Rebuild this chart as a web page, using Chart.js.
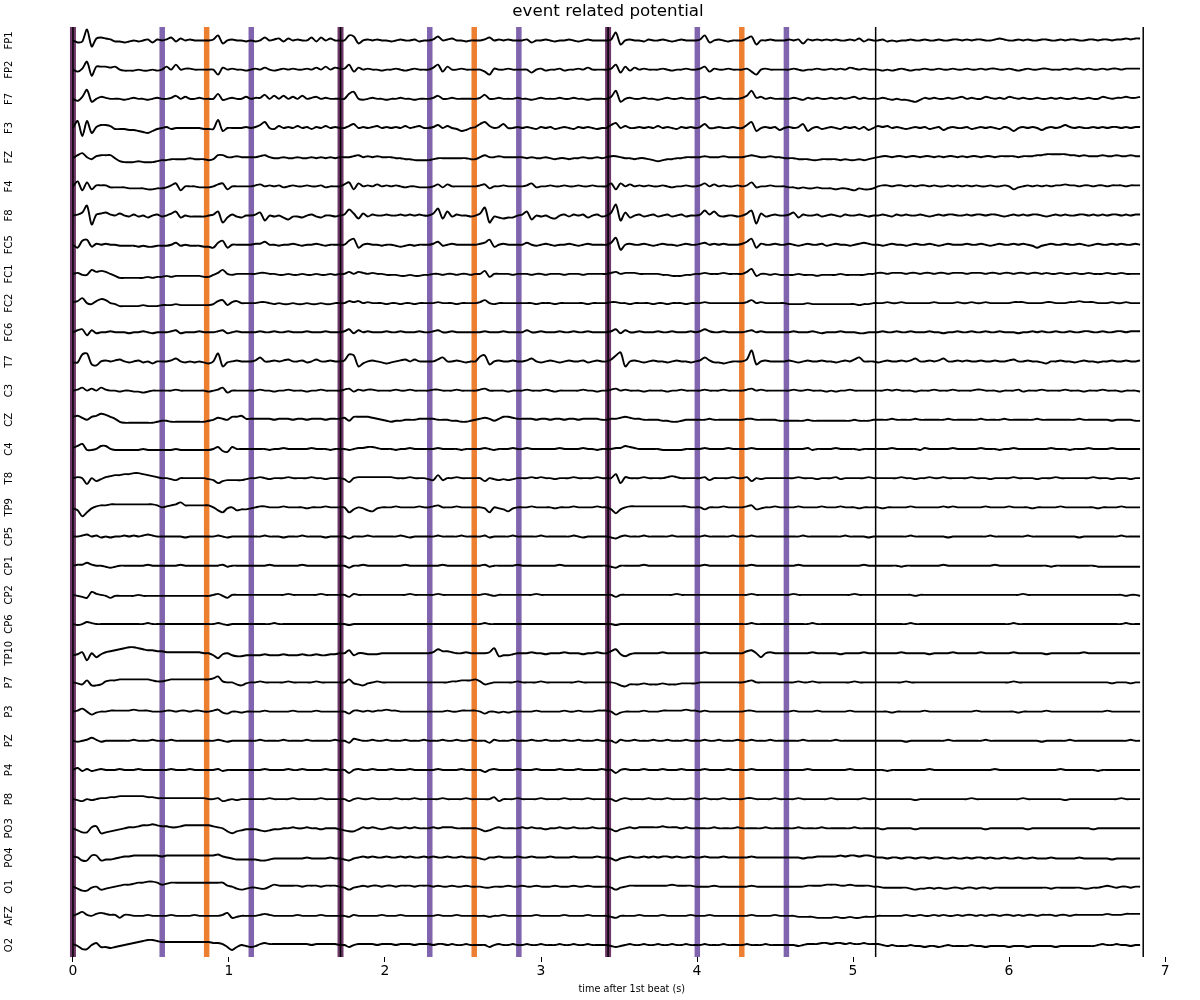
<!DOCTYPE html>
<html>
<head>
<meta charset="utf-8">
<script src="https://cdn.jsdelivr.net/npm/chart.js@4.4.1/dist/chart.umd.min.js"></script>
<style>
html,body{margin:0;padding:0;background:#ffffff;}
#wrap{width:1200px;height:1000px;}
</style>
</head>
<body>
<div id="wrap"><canvas id="c" width="1200" height="1000"></canvas></div>
<script>
// ---------------- data ----------------
const CHANNELS = ['FP1','FP2','F7','F3','FZ','F4','F8','FC5','FC1','FC2','FC6','T7','C3','CZ','C4','T8','TP9','CP5','CP1','CP2','CP6','TP10','P7','P3','PZ','P4','P8','PO3','PO4','O1','AFZ','O2'];
const SAMPLE_STEP = 0.03;               // seconds between samples
const BEATS = [0, 1.715, 3.43, 5.145, 6.86];
const MEASURE_EVENTS = [0, 1.715, 3.43];
const TRIPLET_EVENTS = [0.572, 1.143, 2.287, 2.858, 4.002, 4.573];
const HALF_EVENTS = [0.857, 2.572, 4.287];
const X_TICKS = [0, 1, 2, 3, 4, 5, 6, 7];

// signal values (deflection in units of 1/29.2 of the channel spacing, up = positive)
const FP1 = [
0,-2,-1,11,-6,2,3,2,1,-1, -1,-2,-1,0,-1,0,1,-2,1,0, 1,3,-1,2,0,1,0,0,0,0, 1,5,-3,0,1,0,0,-1,
0,-1,0,3,0,1,2,-1,2,0, 1,0,0,3,-1,3,0,2,0,0, 0,5,4,-3,0,1,0,1,0,0, -1,0,1,0,0,1,-1,0,
0,1,4,0,1,2,0,0,-1,0, 0,0,1,3,0,1,0,1,0,0, 0,1,-2,0,0,1,0,-1,0,0, 1,0,-1,0,1,0,0,0,
0,1,8,-4,0,1,0,0,-1,1, 0,0,1,0,-1,0,1,0,0,0, 1,5,-2,0,1,0,-1,0,0,0, 2,4,-4,0,0,1,0,0,
0,1,0,1,-3,1,0,1,0,1, 0,1,0,0,1,0,2,-1,1,0, 0,1,-1,0,-1,0,0,1,0,0, 1,0,0,1,0,0,1,1,
0,1,0,1,1,0,0,1,2,1, 0,0,1,0,1,0,0,1,1,0, 0,1,0,1,1,0,0,1,1,0, 1,1,0,1,1,2,1,2,2];
const FP2 = [
0,-2,1,8,-6,3,3,3,2,3, 0,-1,-1,-1,0,-1,-1,0,-1,0, 3,0,5,0,1,1,0,0,0,0, 0,-5,2,0,1,0,0,-1,
0,1,0,2,0,-1,0,1,0,1, 0,0,1,0,2,0,3,0,2,1, 1,5,-2,2,0,1,0,0,-1,0, 0,1,0,-1,0,1,0,0,
0,2,5,-2,3,0,0,1,0,0, 0,0,-2,-5,1,0,0,1,0,0, 0,0,-3,0,1,-1,0,0,1,-1, 0,0,1,0,2,0,0,0,
0,1,5,-3,3,-1,2,0,1,0, 0,0,1,0,-1,0,0,1,0,0, 1,3,-2,1,0,0,1,0,0,0, 1,-2,-5,0,1,0,0,0,
0,0,1,0,-1,0,0,1,0,0, 1,0,1,0,2,1,0,1,0,0, 0,-1,0,-1,0,1,0,-1,0,0, 1,0,0,1,0,0,1,0,
0,1,0,0,1,0,1,1,0,0, 1,0,-1,0,1,0,0,1,1,0, 0,0,1,0,1,1,0,1,0,0, 1,0,1,1,0,1,1,1,1];
const F7 = [
0,-2,2,9,-3,0,2,1,0,0, 0,-1,0,1,0,0,-1,0,1,0, 0,1,3,0,2,0,0,1,0,0, 0,5,-1,0,1,0,0,2,
0,1,1,4,0,3,0,3,0,2, 0,3,0,1,2,0,1,0,0,0, 0,5,7,0,-1,0,1,0,0,-1, 0,0,1,0,0,-1,0,0,
0,1,3,0,0,1,0,0,0,0, 0,1,4,0,0,1,0,0,0,1, 0,0,-1,0,1,0,0,0,1,0, 0,1,0,0,-1,0,0,0,
0,2,8,-3,0,1,0,0,1,0, 0,-1,0,1,0,0,1,0,0,0, 1,2,0,0,1,0,0,0,0,1, 3,8,1,2,0,1,0,0,
0,0,1,0,-1,1,0,1,0,0, 1,0,1,0,1,2,0,1,0,0, 0,1,0,-1,0,-1,-1,-2,-3,-1, 1,0,1,0,0,1,0,1,
2,0,1,0,0,2,1,0,1,0, 2,1,0,1,0,0,1,0,0,1, 0,1,0,0,1,0,0,1,0,0, 2,1,0,1,1,2,1,1,2];
const F3 = [
0,7,-8,7,-5,1,3,3,2,-1, -1,-1,-2,-2,-3,-4,-5,-3,-1,0, 1,-1,0,0,0,0,0,0,-1,-1, -1,8,-3,0,0,0,0,1,
0,1,3,6,0,-1,2,0,1,0, 2,0,1,-1,1,0,2,0,1,0, 0,2,4,0,1,0,1,2,0,1, 0,1,0,2,0,1,2,0,
0,1,3,0,2,0,-1,-3,-2,0, 1,4,6,2,0,1,4,0,0,1, 0,1,0,-1,1,0,1,-1,0,1, 0,-1,1,0,1,0,-1,0,
0,3,5,0,2,0,0,1,0,1, 0,2,0,1,0,-1,1,0,1,0, 1,4,0,0,1,0,0,1,0,0, 3,6,-3,0,1,0,1,-2,
0,1,0,1,4,-3,0,1,-1,0, 1,0,-1,1,0,1,-1,1,-2,0, 2,1,2,0,1,0,-1,0,1,0, 1,-1,0,1,-2,0,1,0,
0,1,-1,0,1,0,1,0,-1,1, 0,-3,0,1,0,1,0,-2,0,1, 0,1,3,1,0,1,0,0,1,0, 1,0,1,1,0,1,0,1,1];
const FZ = [
-1,2,4,0,-2,1,2,2,2,-1, -4,-5,-5,-5,-4,-5,-5,-5,-4,-3, -3,-2,-2,-2,-2,-1,-2,-2,-2,-3, -2,2,2,0,0,1,0,0,
0,0,1,2,0,-1,-1,0,-1,-1, 0,-1,-1,0,-1,0,-1,0,-1,0, 0,0,1,2,0,1,0,1,0,0, 0,-1,-1,-2,-2,-3,-3,-3,
-3,-2,-1,-1,-1,-1,-1,-1,-1,-2, -2,0,2,0,0,1,0,0,0,0, 0,-1,0,-1,-1,0,-1,-2,-1,-1, -2,-1,-1,0,-1,-1,0,-1,
0,1,1,0,-1,-1,-2,-1,-1,-2, -3,-4,-3,-2,-2,-1,-1,0,0,0, 0,1,0,0,0,1,0,0,0,0, 1,2,1,0,0,1,0,0,
-1,-1,-1,-2,-2,-2,-3,-3,-2,-2, -2,-2,-3,-2,-3,-3,-2,-3,-2,-1, 0,1,1,0,1,1,0,1,1,0, 1,1,0,1,0,1,1,0,
1,0,1,1,0,1,1,0,1,1, 1,1,0,1,1,1,2,2,3,3, 3,3,3,2,2,1,2,1,1,1, 2,1,1,2,1,1,2,1,1];
const F4 = [
0,5,-4,4,-3,1,1,1,-1,-1, -1,-1,-2,-2,-2,-2,-3,-3,-2,-2, -1,1,3,-4,0,0,0,-1,-1,-1, 0,2,3,-3,0,0,0,0,
0,1,2,0,1,0,1,-1,0,1, 0,0,1,0,0,1,-1,0,0,0, 2,4,-3,3,0,1,0,2,0,1, 0,1,0,-1,0,0,-1,-1,
-1,0,2,-1,2,0,0,0,0,0, 0,1,2,-2,0,0,1,0,0,0, 0,1,3,-1,0,0,1,0,0,1, 0,0,1,0,0,1,0,0,
0,3,-3,3,0,2,0,1,0,1, 0,0,1,0,-1,0,0,1,0,0, 1,3,0,2,0,1,0,0,1,0, 1,4,-1,0,0,1,0,0,
0,-1,-1,-2,-1,-2,-2,-1,-2,-2, -2,-3,-2,-2,-3,-4,-2,-3,-3,-2, 0,1,1,0,1,1,0,1,0,1, 1,0,1,0,0,1,0,1,
0,1,0,1,0,0,1,0,0,1, 0,-3,-1,0,1,0,1,0,1,0, 1,1,2,1,1,0,1,1,0,1, 1,0,1,1,1,0,1,1,1];
const F8 = [
0,1,3,10,-9,1,2,3,1,0, 2,0,-1,1,-1,0,-2,0,1,-1, 0,2,4,-2,0,-1,-1,-1,-1,0, 1,4,-7,-2,1,-1,-2,0,
0,1,3,-5,0,-1,0,-2,-4,-1, -1,-2,0,1,-1,-2,0,0,-1,0, 1,6,2,-3,2,-1,1,0,0,1, 0,0,1,0,1,0,1,0,
0,2,7,-3,4,-1,1,0,0,-1, 0,2,8,-7,-1,-2,-3,-2,-2,0, 1,4,-4,0,-1,0,-2,-3,0,1, -1,1,0,1,-2,0,1,-1,
0,3,11,-5,3,-2,0,1,-1,0, 1,-1,0,1,-1,0,1,-1,0,0, 1,5,1,4,0,-1,0,0,-1,0, 2,5,-8,2,-1,0,1,0,
0,1,3,-2,1,0,0,1,-1,0, 1,0,-1,1,0,0,1,0,-1,0, 0,1,0,-1,1,0,1,0,0,1, 0,-1,0,1,0,1,1,0,
0,1,0,1,1,0,1,1,0,-1, 0,1,0,1,0,1,1,0,-1,0, 1,0,1,0,0,1,1,0,1,0, 1,0,1,1,0,1,0,1,1];
const FC5 = [
0,-3,4,5,-2,1,0,1,0,0, -1,-1,-1,-1,-2,-1,-2,-2,-1,-1, -1,0,2,-1,0,-1,-1,-1,-2,-2, -3,2,4,-3,0,0,0,0,
0,1,1,3,0,0,-1,0,0,1, 0,-1,0,0,1,0,-1,0,0,0, 0,4,6,-3,0,1,0,0,-1,0, 0,-1,-2,-1,0,-1,0,0,
0,1,3,-1,0,1,0,0,0,0, 0,1,2,5,-2,0,1,0,0,0, 0,2,0,-1,0,1,0,-1,0,0, 1,0,-1,0,1,0,0,0,
0,2,7,-5,0,1,0,0,1,0, -1,0,1,0,0,-1,0,1,0,0, 1,2,0,1,0,1,0,0,0,1, 3,6,-3,1,0,0,1,0,
0,1,0,-1,0,1,0,0,1,-1, 0,1,0,0,-1,0,1,2,1,0, 0,-1,0,1,0,0,-1,0,1,0, 0,1,0,-1,0,1,0,0,
0,1,0,0,1,0,-1,0,1,0, 0,1,0,1,0,-1,-3,-1,0,1, 0,0,1,0,0,1,0,-1,0,1, 0,0,1,0,1,0,0,1,0];
const FC1 = [
0,1,-1,-1,4,2,3,2,0,-2, -4,-4,-4,-4,-4,-4,-3,-4,-3,-3, -2,-3,-2,-2,-2,-2,-2,-2,-3,-3, -1,1,4,0,-1,0,0,0,
0,0,1,1,0,0,-1,-1,0,-1, -1,0,-1,-1,0,-1,-1,0,-1,0, 0,2,0,2,1,0,1,0,0,-1, -1,-1,-2,-2,-1,-2,-2,-1,
-1,0,0,-1,0,0,-1,0,0,-1, 0,0,3,-3,0,0,0,0,-1,0, 0,0,-1,0,0,-1,0,0,0,-1, 0,0,0,-1,0,0,0,0,
0,1,2,0,1,1,1,0,0,0, 0,0,-1,-1,-2,-2,-2,-1,-1,0, 0,1,0,0,0,1,0,0,0,0, 2,5,-2,0,0,-1,0,-1,
-1,-1,-1,0,-1,-1,-1,-2,-1,-1, -1,-1,0,-1,-1,-1,-1,-1,0,0, 1,1,0,1,1,1,0,1,1,0, 1,1,0,1,1,0,1,1,
1,0,1,1,1,0,1,1,0,1, 1,0,1,1,0,1,1,0,1,0, 0,1,0,0,1,0,0,1,0,0, 0,1,0,0,1,0,0,0,0];
const FC2 = [
1,2,5,0,-1,2,4,3,0,-1, -3,-3,-3,-3,-3,-2,-3,-3,-3,-2, -2,-2,-1,-2,-2,-2,-2,-2,-2,-2, -1,2,3,-2,1,2,0,0,
0,0,1,1,0,-1,0,-1,-1,0, -1,-1,0,-1,-1,0,-1,-1,0,0, 0,2,1,2,0,1,0,0,0,-1, 0,0,-1,0,0,-1,0,0,
0,0,1,0,0,0,-1,0,0,0, 0,1,3,0,-1,0,0,0,0,0, 0,0,0,-1,0,0,0,-1,0,0, 0,0,0,0,-1,0,0,0,
0,1,1,0,0,-1,0,0,0,0, -1,0,0,-1,0,0,0,-1,0,0, 0,1,0,0,0,0,0,0,0,0, 1,3,0,1,0,0,0,0,
0,-1,-1,-1,-1,0,-1,-1,-1,-1, -1,-1,-1,-1,-1,-1,-2,-1,-1,0, 0,0,1,0,0,1,0,0,0,0, 0,0,1,0,0,0,0,1,
0,0,1,0,0,1,0,0,0,0, 0,1,1,1,0,0,0,0,1,1, 0,0,0,1,1,2,1,1,1,0, 0,0,1,0,0,1,0,0,0];
const FC6 = [
0,2,3,-3,2,-1,0,0,1,0, 0,0,-1,0,0,1,0,-1,0,0, 0,1,2,-1,0,0,0,1,0,0, 0,1,2,-1,0,1,0,0,
0,0,1,0,0,1,0,0,1,0, 0,0,1,0,0,0,1,0,0,0, 1,3,-1,2,0,1,0,0,0,1, 0,0,1,0,0,0,1,0,
0,1,2,0,0,1,0,0,0,0, 0,0,1,0,0,0,1,0,0,0, 0,2,0,0,1,0,0,0,1,0, 0,1,0,0,1,0,0,0,
0,1,3,-1,2,0,0,1,0,0, 0,1,0,0,1,0,0,0,1,0, 1,3,1,0,0,1,0,0,0,0, 1,2,0,1,0,0,0,0,
0,0,1,0,0,0,1,0,-1,0, 0,0,1,0,0,0,-1,-1,0,0, 0,1,0,0,1,0,0,1,0,0, 0,1,0,0,-1,0,0,1,
0,0,1,0,0,1,0,0,1,0, 0,0,-1,0,0,1,0,1,0,0, 1,0,0,1,0,0,1,1,0,0, 1,0,0,1,1,0,1,1,1];
const T7 = [
-1,-1,7,8,-3,-4,0,1,0,1, 2,0,-1,0,1,-1,0,-2,0,0, 0,1,3,0,-1,0,-1,0,-1,-2, 0,8,-5,-1,0,1,0,0,
0,1,4,0,0,1,0,1,2,0, 0,1,-1,0,2,0,0,1,0,0, 1,7,6,-5,-2,0,1,0,-1,-2, -1,0,1,2,0,2,0,0,
0,0,2,4,0,0,1,0,-1,0, 0,5,6,-3,0,1,0,0,1,0, 0,1,3,0,-1,0,1,0,-1,0, 1,0,0,1,-1,0,1,0,
0,2,6,9,-5,0,1,0,-1,0, 1,0,0,-1,0,1,0,0,-1,0, 1,4,1,-1,-1,-2,-1,0,0,0, 2,11,-3,0,1,0,0,0,
0,1,0,-1,0,1,0,0,1,0, 0,-1,0,1,0,2,4,0,0,0, -1,0,1,0,0,1,0,1,3,0, 0,1,0,1,3,0,0,1,
0,1,0,0,1,0,0,1,0,0, 1,2,0,0,1,0,0,-1,-2,0, 0,1,0,0,-1,0,1,0,0,-1, 0,0,1,0,0,1,0,0,1];
const C3 = [
0,1,3,0,2,0,3,1,0,0, -1,0,0,-1,-1,-2,-1,0,0,0, 0,0,1,0,0,0,0,0,0,-1, 0,1,3,-2,0,0,0,0,
0,0,1,0,0,-1,0,0,1,0, 0,0,-1,0,0,1,0,0,0,0, 1,2,-1,1,0,1,1,0,0,0, 0,1,0,0,1,0,0,0,
0,1,1,0,0,0,1,0,0,0, 0,1,2,0,0,0,0,-1,0,0, 0,1,0,0,0,1,0,-1,0,0, 0,0,0,1,0,0,-1,0,
0,1,2,0,1,0,0,0,-1,0, 0,0,0,-1,0,0,1,0,0,0, 0,1,0,0,0,1,0,0,0,0, 1,2,0,1,0,0,0,0,
0,0,1,0,0,1,0,0,0,-1, 0,-1,0,0,1,0,0,0,0,0, 0,0,1,0,1,0,0,0,-1,0, 0,0,1,0,0,0,1,0,
0,0,0,1,1,0,0,0,-1,0, 0,0,1,-1,0,0,0,1,0,0, 0,0,1,0,0,0,-1,0,0,0, 1,0,0,0,-1,0,0,0,-1];
const CZ = [
3,4,2,0,3,4,6,5,3,1, -2,-3,-3,-3,-3,-3,-3,-3,-2,-1, -1,-2,-2,-2,-2,-2,-2,-2,-2,-1, 0,2,1,0,3,3,4,1,
1,1,1,1,1,0,1,1,1,0, 1,1,0,1,1,1,0,1,1,1, 2,-1,3,3,3,3,2,1,0,-1, -2,-1,-1,0,0,0,1,1,
1,1,0,0,0,-1,-1,-2,-2,-1, 0,1,2,1,-1,1,3,3,2,1, 1,1,1,0,1,1,0,1,1,0, 1,1,0,1,1,1,1,0,
0,1,1,2,3,2,1,1,0,0, 0,0,-1,-1,-2,-2,-1,0,0,0, 0,0,1,0,0,0,0,0,0,0, 1,1,0,0,0,0,0,-1,
-1,-1,-1,-1,-1,0,-1,-1,-1,-1, -1,-1,-1,-1,-1,0,-1,-1,-1,0, 0,0,0,1,0,0,0,0,1,0, 0,0,0,0,0,1,0,0,
0,0,0,0,1,0,0,0,0,1, 0,0,0,0,0,0,1,0,0,0, 0,0,0,0,0,1,0,0,0,0, 0,0,-1,0,0,0,0,-1,-1];
const C4 = [
1,3,5,-1,-1,0,3,3,0,-1, -1,-1,-1,-1,-1,0,-1,-1,-1,-1, -1,-1,0,-1,-1,-1,-1,-1,-1,-1, 0,2,-2,-3,2,0,0,0,
0,0,0,0,-1,0,0,1,0,0, 0,0,0,1,0,0,0,-1,0,0, 0,-1,0,1,1,2,2,1,0,0, 0,-1,0,0,1,0,0,0,
0,0,1,0,0,0,0,-1,0,0, 0,0,1,0,-1,0,0,0,1,0, 0,1,0,0,0,0,0,0,1,0, 0,0,0,1,0,0,-1,0,
0,0,1,1,3,2,1,0,0,0, 0,0,-1,-1,-1,-1,-1,0,0,0, 0,1,0,0,0,0,1,0,0,0, 0,1,0,0,0,0,0,0,
0,0,0,0,0,1,-1,0,0,0, 0,1,0,0,0,0,-1,0,0,0, 0,0,0,1,0,0,0,0,0,-1, 1,0,0,0,0,0,1,0,
0,0,0,0,1,0,0,0,-1,0, 0,1,0,0,0,0,0,0,0,1, 0,0,0,-1,0,0,0,1,0,0, 0,0,1,0,0,0,0,0,0];
const T8 = [
0,1,0,-6,0,-3,-1,1,2,3, 3,4,4,5,5,4,3,2,1,0, 0,-1,-2,0,0,0,0,0,0,-1, -2,-5,-3,-2,-2,-2,-2,-1,
0,0,1,0,-1,0,0,0,1,0, 0,0,0,1,0,0,-1,0,0,0, -1,-4,0,1,1,1,1,1,1,1, 1,0,0,0,1,0,0,0,
-1,-2,3,-2,0,0,1,0,0,0, 0,0,-3,0,-1,-2,-1,-2,-1,0, 0,0,1,0,1,0,0,-1,0,0, 0,1,0,0,0,0,1,0,
0,0,4,-5,1,0,0,0,1,0, 0,0,0,1,2,1,0,0,0,0, 0,1,-2,0,0,0,0,1,0,0, 1,-3,0,-1,0,0,0,0,
0,0,0,1,0,0,0,-1,0,0, 0,1,-1,0,0,0,0,0,1,0, 0,0,0,0,0,1,0,0,-1,0, 0,1,0,0,1,0,0,0,
0,0,1,0,0,0,-1,0,0,0, 0,1,0,0,0,0,-1,0,0,0, 1,0,0,0,0,0,0,0,1,0, 0,0,-1,0,0,0,-1,0,0];
const TP9 = [
-1,-3,-9,-5,-1,1,2,2,3,3, 3,3,3,3,3,3,3,3,2,0, 1,2,3,5,2,2,2,2,2,2, 0,-3,-5,-1,0,-3,-2,-2,
-1,0,1,1,0,0,0,1,0,0, 0,0,-1,0,0,0,1,0,0,0, 0,-5,-2,0,-1,-3,-4,-1,0,0, 0,1,0,0,0,0,1,0,
0,1,2,0,0,0,1,0,0,0, 0,0,-1,-5,0,-1,-2,-4,-1,0, 0,0,1,0,0,0,0,-1,0,0, 0,1,0,0,0,0,1,0,
0,-2,-6,-2,0,1,1,1,1,1, 1,1,1,1,1,1,1,1,0,0, 0,-2,0,0,0,1,0,0,0,0, 1,2,-2,-1,0,0,1,0,
0,0,0,1,0,0,0,0,1,0, 0,0,1,0,0,0,-1,0,0,0, 0,-1,0,0,0,0,0,1,0,0, 0,0,0,0,1,0,1,0,
0,0,0,0,0,1,0,0,0,0, 1,0,0,0,0,-1,0,0,0,0, 0,1,0,0,0,0,0,0,0,-1, 0,0,0,0,1,0,0,0,0];
const CP5 = [
0,0,1,2,0,1,-1,0,-1,0, 0,1,0,1,0,1,2,1,0,0, 0,0,0,0,-1,0,0,0,0,0, 0,1,0,-1,0,0,0,0,
0,0,0,1,0,0,0,-1,0,0, 0,1,0,0,0,0,-1,0,0,0, 0,-2,0,0,0,1,0,0,0,0, 0,0,1,0,-1,0,0,0,
0,0,1,0,0,0,0,1,0,0, 0,0,1,-1,0,0,0,0,1,0, 0,0,0,0,1,0,0,0,0,0, 0,1,0,-1,0,0,0,0,
0,-1,-2,0,1,0,0,0,1,0, 0,0,0,0,1,0,0,0,0,0, 0,1,0,0,0,0,0,1,0,0, 0,1,0,0,0,0,0,0,
0,0,0,0,1,0,0,0,0,0, 0,0,0,1,0,0,0,0,-1,0, 0,0,0,0,0,0,0,1,0,0, 0,0,0,0,0,-1,0,0,
0,0,0,0,0,0,1,0,0,0, 0,0,0,0,1,0,0,0,0,0, 0,0,0,0,0,-1,0,0,0,0, 0,0,0,0,1,0,0,0,0];
const CP1 = [
0,1,1,3,1,0,0,-1,-2,-1, 0,0,0,0,0,0,1,0,0,0, 0,0,0,1,0,0,0,0,0,0, 0,0,1,-1,0,0,0,0,
0,0,0,0,1,0,0,0,0,0, 0,1,0,0,0,0,0,0,0,0, 0,-2,0,0,1,0,0,0,0,0, 0,0,0,1,0,0,0,0,
0,0,0,1,0,0,0,0,0,0, 0,0,1,-1,0,0,0,0,0,1, 0,0,0,0,0,0,0,0,1,0, 0,0,0,0,0,0,0,0,
0,-1,-2,0,0,0,0,0,1,0, 0,0,0,0,0,0,0,0,0,0, 0,1,0,0,0,0,0,0,0,0, 0,1,0,0,0,0,0,0,
0,0,0,1,0,0,0,0,0,0, 0,0,0,0,0,0,0,1,0,0, 0,0,0,0,0,-1,0,0,0,0, 0,0,0,0,1,0,0,0,
0,0,0,0,0,0,0,1,0,0, 0,0,0,0,0,0,0,0,0,-1, 0,0,0,0,0,0,0,0,0,-1, -1,-1,-1,-1,-1,-1,-1,-1,-1];
const CP2 = [
0,-1,-2,-3,3,1,0,-1,-3,-1, -1,-1,-1,-1,0,-1,-1,-1,-1,-1, -1,-1,-1,-1,-1,-1,-1,-1,-1,-1, 0,1,-1,-3,0,0,0,0,
0,0,0,0,0,0,0,0,1,0, 0,0,0,0,0,1,0,0,0,0, 0,-2,1,0,0,0,0,0,0,0, 0,0,0,0,1,0,0,0,
0,0,1,0,0,0,0,0,0,0, 0,0,1,0,-1,0,0,0,0,0, 0,0,0,1,0,0,0,0,0,0, 0,0,0,0,0,0,0,0,
0,0,-2,0,0,0,0,0,0,0, 0,0,0,0,0,1,0,0,0,0, 0,0,0,0,0,0,0,0,0,0, 0,1,0,0,0,0,0,0,
0,0,1,0,0,0,0,0,0,0, 0,0,0,0,0,1,0,0,0,0, 0,0,0,0,0,0,0,0,-1,0, 0,0,0,0,0,0,0,0,
0,0,0,0,0,0,0,0,0,0, 0,0,0,1,0,0,0,0,0,0, 0,0,0,0,0,0,0,0,0,0, 0,0,0,0,0,-1,0,0,-1];
const CP6 = [
0,-1,0,2,1,0,0,0,0,0, 0,0,0,0,0,0,1,0,0,0, 0,0,0,0,0,0,0,0,0,0, 0,1,0,-1,0,0,0,0,
0,0,0,0,0,1,0,0,0,0, 0,0,0,0,0,0,0,0,0,0, 0,-1,0,0,0,0,0,0,0,0, 0,0,0,0,0,0,0,0,
0,0,0,0,0,0,0,0,0,0, 0,0,1,0,0,0,0,0,0,0, 0,0,0,0,0,0,0,0,0,0, 0,0,0,0,0,0,0,0,
0,0,-1,0,0,0,0,0,0,0, 0,0,0,0,0,0,0,0,0,0, 0,0,0,0,0,0,0,0,0,0, 0,1,0,0,0,0,0,0,
0,0,0,0,0,0,1,0,0,0, 0,0,0,0,0,0,0,0,0,0, 0,0,0,0,0,0,0,1,0,0, 0,0,0,0,0,0,0,0,
0,0,0,0,0,0,0,0,0,0, 0,1,0,0,0,0,0,0,0,0, 0,0,0,0,0,0,0,0,0,0, 0,0,0,0,0,1,0,0,0];
const TP10 = [
-2,-1,1,-7,0,-4,-1,1,2,3, 4,5,6,6,5,4,3,3,2,2, 1,1,1,1,1,1,1,1,0,0, -2,-5,-1,0,-2,-3,-3,-2,
-2,-2,-2,-1,-2,-2,-2,-1,-2,-2, -2,-1,-2,-2,-1,-2,-2,-1,-1,0, 0,3,-2,0,0,-1,-1,-1,0,0, 0,0,0,0,0,0,0,0,
0,1,4,2,2,1,0,0,1,0, 0,0,0,1,5,-3,-2,-2,-1,0, 0,0,1,0,0,-1,0,0,0,1, 0,0,0,-1,0,0,1,0,
0,2,4,-1,-3,-1,0,0,0,0, 0,0,1,0,0,0,0,0,0,0, 0,1,0,0,0,0,0,0,0,0, 2,3,0,-4,0,1,0,0,
0,0,0,0,0,0,1,0,0,0, 0,0,-1,0,0,0,0,1,0,0, 0,0,0,0,0,1,0,0,0,0, 0,-1,0,0,0,0,1,0,
0,0,0,0,1,0,0,0,0,0, 0,1,0,0,0,0,0,0,-1,0, 0,0,0,0,0,0,1,0,0,0, 0,0,0,0,0,0,0,0,0];
const P7 = [
0,-1,-2,2,-3,-3,-2,1,2,2, 3,3,3,3,3,3,3,2,1,1, 2,3,3,3,3,3,3,3,3,3, 4,6,1,0,0,-2,-3,-1,
0,0,1,0,0,0,0,0,1,0, 0,0,0,0,1,0,0,0,0,0, 0,3,-1,-2,-3,-1,0,1,0,0, 0,0,0,0,0,0,0,0,
0,0,0,0,0,1,1,2,2,2, 3,1,-2,-1,0,0,0,0,0,1, 0,0,0,0,1,0,0,0,0,0, 0,0,1,0,0,0,0,0,
0,0,-1,-3,-4,-2,-2,-2,-1,-2, -2,-2,-1,-2,-2,-2,-1,-1,-1,-1, 0,0,0,0,0,0,0,0,0,0, 1,2,0,0,0,0,0,0,
0,0,0,1,0,0,1,0,0,0, 0,0,0,0,0,1,0,0,0,0, 0,0,0,0,0,0,1,0,0,0, 0,0,0,0,0,0,0,0,
0,0,0,0,0,0,0,0,0,0, 0,1,0,0,0,0,0,0,0,0, 0,0,0,0,0,0,0,0,0,0, 0,0,-1,0,0,0,-1,0,0];
const P3 = [
0,1,3,0,-3,-1,0,0,1,1, 1,1,1,2,1,1,1,0,0,0, 1,1,0,1,1,0,1,1,0,0, 1,2,-1,-2,0,0,-1,0,
0,0,0,1,0,0,0,0,0,1, 0,0,0,0,1,0,0,0,0,0, 0,-2,1,1,0,1,0,1,1,2, 1,1,0,0,0,0,0,0,
0,0,0,0,1,0,0,1,1,1, 1,0,-2,0,0,-1,0,-1,0,0, 0,0,0,1,0,0,0,0,0,1, 0,0,1,0,0,0,1,1,
1,0,-3,-1,0,0,0,0,1,0, 0,0,1,1,1,1,1,2,1,1, 0,1,0,0,0,0,0,0,0,0, 1,1,0,0,0,0,0,0,
0,0,1,0,0,0,0,1,0,0, 0,0,0,0,1,0,0,0,0,0, 0,0,0,-1,0,0,0,0,0,0, 1,0,0,0,0,0,0,0,
0,0,0,1,0,0,0,0,0,0, 0,0,-1,0,0,0,0,0,1,0, 0,0,0,0,0,0,0,0,0,0, 0,1,0,0,0,0,0,0,0];
const PZ = [
0,-1,0,1,3,1,-1,0,0,0, 0,0,0,1,0,0,0,1,0,0, 0,1,0,0,0,0,0,0,0,0, 0,1,0,-1,0,0,0,0,
0,0,1,0,0,0,0,1,0,0, 0,0,1,0,0,0,0,0,1,0, 0,-2,2,1,0,0,1,0,0,1, 0,0,0,1,0,0,0,1,
0,0,0,1,0,0,1,0,0,1, 0,0,0,-2,1,0,0,0,1,0, 0,0,1,0,0,1,0,0,0,1, 0,0,1,0,0,0,1,0,
0,0,-2,1,0,0,1,0,0,0, 1,0,0,1,0,0,0,1,0,0, 0,1,0,0,1,0,0,0,1,0, 0,1,0,0,0,1,0,0,
0,0,0,0,1,0,0,0,0,0, 0,1,0,0,0,0,0,0,0,0, 0,0,0,0,0,0,-1,0,0,0, 0,0,0,0,0,1,0,0,
0,0,0,0,0,1,0,0,0,0, 0,0,0,0,0,0,0,-1,0,0, 0,0,0,1,0,0,0,0,0,0, 0,0,0,0,0,0,1,0,0];
const P4 = [
0,2,-1,1,-1,0,1,0,0,0, 1,0,0,0,1,0,0,0,0,0, 0,1,0,0,0,1,0,0,0,0, 0,1,-1,0,0,0,0,0,
0,0,0,1,0,0,0,0,1,0, 0,1,0,0,0,0,1,0,0,0, 0,-3,0,1,0,0,1,0,0,0, 1,0,0,0,1,0,0,0,
0,0,1,0,0,0,0,1,0,0, 0,0,-2,0,1,0,0,0,0,1, 0,0,0,1,0,0,0,0,1,0, 0,0,1,0,0,0,0,1,
0,0,-3,0,1,0,0,0,1,0, 0,0,1,0,0,0,1,0,0,0, 0,1,0,0,0,0,1,0,0,0, 0,1,0,0,0,0,0,0,
0,0,0,0,0,1,0,0,0,0, 0,0,0,0,1,0,0,0,0,0, 0,0,-1,0,0,0,0,0,0,0, 0,1,0,0,0,0,0,0,
0,0,0,0,0,0,0,1,0,0, 0,0,0,0,0,0,0,0,0,0, 0,1,0,0,0,0,0,0,0,-1, 0,0,0,0,0,0,0,0,0];
const P8 = [
0,-1,-2,0,-1,0,1,1,2,2, 3,3,3,3,3,3,2,2,1,1, 1,1,1,1,1,1,1,1,1,0, 0,1,-2,-1,0,-1,0,0,
0,0,0,0,1,0,0,0,0,1, 0,0,0,0,0,1,0,0,0,0, 0,-2,0,1,0,0,1,0,0,0, 0,1,0,0,0,1,0,0,
0,0,0,1,0,0,0,0,1,0, 0,0,0,0,2,-2,0,0,0,1, 0,0,0,0,1,0,0,0,0,1, 0,0,0,0,1,0,0,0,
0,0,-2,0,1,0,0,0,0,1, 0,0,0,1,0,0,0,0,1,0, 0,1,0,0,0,1,0,0,0,0, 1,1,0,0,0,0,1,0,
0,0,0,1,0,0,0,0,0,0, 1,0,0,0,0,0,0,1,0,0, 0,0,0,0,0,0,0,0,-1,0, 0,0,0,0,0,0,0,0,
0,0,1,0,0,0,0,0,0,0, 0,0,0,1,0,0,0,0,0,0, 0,0,-1,0,0,0,0,0,0,0, 0,0,0,0,1,0,0,0,0];
const PO3 = [
0,-2,-4,-4,1,2,-5,-4,-3,-2, -1,0,1,1,2,3,3,4,3,2, 2,1,1,2,3,3,3,3,3,3, 2,1,0,-3,-5,-3,-2,-1,
-1,-1,-2,-3,-2,-1,-1,0,0,1, 0,0,1,0,0,-1,0,0,0,-1, -2,-3,-3,-1,1,0,1,0,-1,0, 1,0,0,1,0,1,0,0,
0,1,0,1,1,1,0,0,0,0, 0,-1,-3,-2,0,1,0,0,0,0, 1,0,1,0,0,-1,0,0,1,0, 0,1,0,0,0,1,0,0,
0,-1,-3,-1,0,1,0,1,1,1, 1,1,2,1,1,1,0,1,0,0, 0,0,0,1,0,0,0,0,1,0, 0,0,0,0,1,0,0,0,
0,0,0,1,0,0,0,0,1,0, 0,0,0,0,0,1,0,0,0,0, 0,-1,0,0,0,0,0,0,-1,0, 0,0,0,0,0,0,0,0,
0,0,0,0,0,-1,0,0,0,0, 0,0,0,0,-1,0,0,0,0,0, 0,0,0,0,0,0,0,0,-1,0, 0,0,0,0,0,0,0,0,0];
const PO4 = [
1,0,-3,-3,2,2,-3,-2,-2,-1, 0,1,1,2,2,2,2,2,2,1, 2,2,2,2,2,2,2,2,2,2, 2,3,1,0,-1,-2,-2,-2,
-2,-2,-3,-3,-2,-1,-1,-1,-1,-1, -1,-1,0,-1,-1,-1,-1,0,-1,-1, -2,-3,-1,0,1,0,1,0,0,1, 0,0,1,0,1,0,0,1,
0,1,0,0,1,0,0,1,0,0, 0,-1,-2,0,0,1,0,0,0,1, 0,0,1,0,0,0,1,0,0,0, 0,1,0,0,0,0,1,0,
0,-1,-3,-1,0,1,0,0,1,0, 1,0,1,1,0,1,0,0,1,0, 0,1,0,0,0,1,0,0,0,0, 0,1,0,0,0,0,0,0,
0,0,0,0,-1,0,0,1,1,1, 1,1,2,1,2,2,1,2,2,1, 0,0,-1,0,0,-1,0,0,-1,0, 0,-1,0,0,-1,-1,0,-1,
-1,0,-1,0,0,-1,0,-1,-1,0, -1,-1,0,-1,-1,0,-1,-1,-1,0, -1,-1,-1,-1,-1,0,-1,-1,-1,-1, -1,-1,-2,-1,-1,-1,-1,-1,-1];
const O1 = [
0,-2,-4,-4,-1,0,-3,-2,-1,0, 1,2,2,3,4,4,5,5,4,2, 3,4,4,4,4,4,4,4,4,4, 4,4,4,1,0,-2,-3,-2,
-1,-1,-2,-2,0,2,1,1,1,1, 1,0,1,1,1,0,1,1,1,0, -1,-3,-1,0,1,0,1,1,0,1, 1,0,1,1,1,0,1,1,
1,0,1,0,0,1,0,0,1,0, 0,0,-1,-1,0,0,0,1,0,0, 1,0,0,1,0,0,0,1,0,0, 0,1,0,0,1,0,0,0,
0,-1,-3,-1,0,1,1,1,1,1, 1,1,1,1,2,1,1,1,1,0, 0,0,0,1,0,0,0,0,0,0, 0,1,0,0,0,0,0,0,
0,0,0,0,0,1,1,1,1,2, 2,2,1,1,2,1,1,1,1,0, 0,-1,-1,-1,-1,-1,-1,-2,-3,-2, -2,-1,-2,-1,-2,-2,-1,-1,
-2,-1,-1,-2,-1,-1,-2,-1,-1,-1, -1,-1,-1,-1,-1,-1,-1,-1,-1,-2, -1,-1,-1,-1,-1,-1,-2,-2,-1,-1, 0,1,0,-1,0,0,-1,0,0];
const AFZ = [
0,2,4,1,0,2,3,2,1,1, -2,1,1,0,0,0,1,0,0,0, 0,1,0,0,0,0,1,0,0,0, 0,0,1,3,-2,-1,0,0,
0,0,1,2,1,0,0,0,0,0, 1,0,0,0,0,1,0,0,0,0, 0,-1,1,0,0,0,0,0,1,0, 0,0,1,0,0,0,0,0,
0,0,1,0,0,0,1,0,0,0, 0,0,0,-1,0,0,1,0,0,0, 0,0,0,1,0,0,0,0,0,1, 0,0,0,0,1,0,0,0,
0,-1,-2,0,0,0,0,1,0,0, 0,0,1,0,0,0,0,0,1,0, 0,0,1,0,0,0,0,0,0,0, 0,1,0,0,0,0,1,0,
0,0,0,-1,-1,-1,-1,-2,-2,-2, -2,-1,-2,-2,-1,-2,-2,-1,-1,-1, 0,0,0,0,0,0,1,0,0,1, 0,0,1,0,1,0,0,1,
0,1,1,0,1,0,1,1,0,1, 1,0,1,0,1,1,0,1,1,1, 0,1,1,0,1,1,1,1,1,1, 1,2,1,1,1,2,2,2,2];
const O2 = [
1,-1,-4,-4,0,2,-2,-2,-3,-2, -1,0,1,2,3,4,5,5,4,3, 3,3,3,3,3,3,3,3,3,3, 2,2,1,-2,-5,-2,0,-1,
-2,-1,1,2,1,1,1,1,1,1, 1,1,1,0,1,1,1,1,1,0, 0,-2,0,1,1,1,1,0,1,1, 1,0,1,1,1,0,1,1,
1,0,1,1,0,1,0,0,1,0, 0,0,0,-2,0,1,0,0,1,0, 0,1,0,0,1,0,0,0,1,0, 0,1,0,0,1,0,0,0,
0,-1,-2,-1,0,1,0,0,1,0, 0,1,0,0,1,0,0,1,0,0, 0,1,0,0,0,1,0,0,0,0, 1,0,0,0,1,0,0,0,
0,0,0,-1,0,1,1,1,2,2, 1,2,2,1,2,1,1,2,1,1, 1,0,-1,0,-1,-1,-1,0,-1,-1, -2,-1,-1,-2,-1,0,-1,-1,
-1,-1,0,-1,-1,-2,-1,-1,-1,-1, -2,-1,-1,-1,-2,-1,-1,-1,-1,-1, -2,-1,-1,-1,-1,-1,-1,-1,-1,0, 1,0,0,1,0,0,-1,0,0];

const SIGNALS = [FP1,FP2,F7,F3,FZ,F4,F8,FC5,FC1,FC2,FC6,T7,C3,CZ,C4,T8,TP9,CP5,CP1,CP2,CP6,TP10,P7,P3,PZ,P4,P8,PO3,PO4,O1,AFZ,O2];

// ---------------- layout / style ----------------
const ROW_PX = 29.2;                 // value units per channel spacing
const Y_MAX = 0.46, Y_MIN = -31.41;
const X_MIN = -0.06, X_MAX = 7.224;
const LABEL_X = 9;
const COL_TRIPLET = '#8064ae';
const COL_HALF = '#ed7f31';
const COL_MEASURE = '#6e3868';

Chart.defaults.font.family = "'DejaVu Sans', sans-serif";
Chart.defaults.color = '#000';

const datasets = [];
function vline(t, color, width, order) {
  datasets.push({
    data: [{x: t, y: Y_MIN}, {x: t, y: Y_MAX}],
    borderColor: color, borderWidth: width, pointRadius: 0, tension: 0,
    borderCapStyle: 'butt', order: order, clip: false
  });
}
TRIPLET_EVENTS.forEach(t => vline(t, COL_TRIPLET, 5.5, 5));
HALF_EVENTS.forEach(t => vline(t, COL_HALF, 5.5, 5));
MEASURE_EVENTS.forEach(t => vline(t, COL_MEASURE, 6, 4));
BEATS.forEach(t => vline(t, '#000', 1.5, 3));

SIGNALS.forEach((sig, k) => {
  datasets.push({
    label: CHANNELS[k],
    data: sig.map((v, i) => ({x: i * SAMPLE_STEP, y: -k + v / ROW_PX})),
    borderColor: '#000', borderWidth: 1.9, pointRadius: 0, tension: 0.3,
    borderJoinStyle: 'round', order: 1
  });
});

// channel names drawn at the y scale's tick positions, rotated like the reference
const channelLabels = {
  id: 'channelLabels',
  afterDraw(chart) {
    const {ctx} = chart;
    const y = chart.scales.y;
    ctx.save();
    ctx.font = "10px 'DejaVu Sans'";
    ctx.fillStyle = '#000';
    ctx.textAlign = 'center';
    ctx.textBaseline = 'middle';
    CHANNELS.forEach((name, k) => {
      const py = y.getPixelForValue(-k);
      ctx.save();
      ctx.translate(LABEL_X, py);
      ctx.rotate(-Math.PI / 2);
      ctx.fillText(name, 0, 0);
      ctx.restore();
    });
    ctx.restore();
  }
};

new Chart(document.getElementById('c'), {
  type: 'line',
  data: {datasets},
  plugins: [channelLabels],
  options: {
    responsive: false, animation: false, devicePixelRatio: 1, events: [],
    layout: {padding: {left: 16, right: 0, top: 0, bottom: 0}},
    plugins: {
      legend: {display: false}, tooltip: {enabled: false},
      title: {display: true, text: 'event related potential', color: '#000',
              font: {size: 16.7, weight: 'normal'}, padding: {top: 2, bottom: 5}}
    },
    scales: {
      x: {
        type: 'linear', min: X_MIN, max: X_MAX,
        afterBuildTicks: s => { s.ticks = X_TICKS.map(v => ({value: v})); },
        afterFit: s => { s.height = 43; },
        ticks: {font: {size: 13.9}, color: '#000', padding: 1.5, maxRotation: 0, autoSkip: false,
                callback: v => String(v)},
        grid: {drawOnChartArea: false, drawTicks: true, tickLength: 5, color: '#000', lineWidth: 1},
        border: {display: false},
        title: {display: true, text: 'time after 1st beat (s)', color: '#000',
                font: {size: 9.7}, padding: {top: 0, bottom: 4.6}}
      },
      y: {
        type: 'linear', min: Y_MIN, max: Y_MAX,
        afterBuildTicks: s => { s.ticks = CHANNELS.map((_, k) => ({value: -k})); },
        afterFit: s => { s.width = 47.6; },
        ticks: {display: false, padding: 0},
        grid: {display: false, drawTicks: false},
        border: {display: false}
      }
    }
  }
});
</script>
</body>
</html>
